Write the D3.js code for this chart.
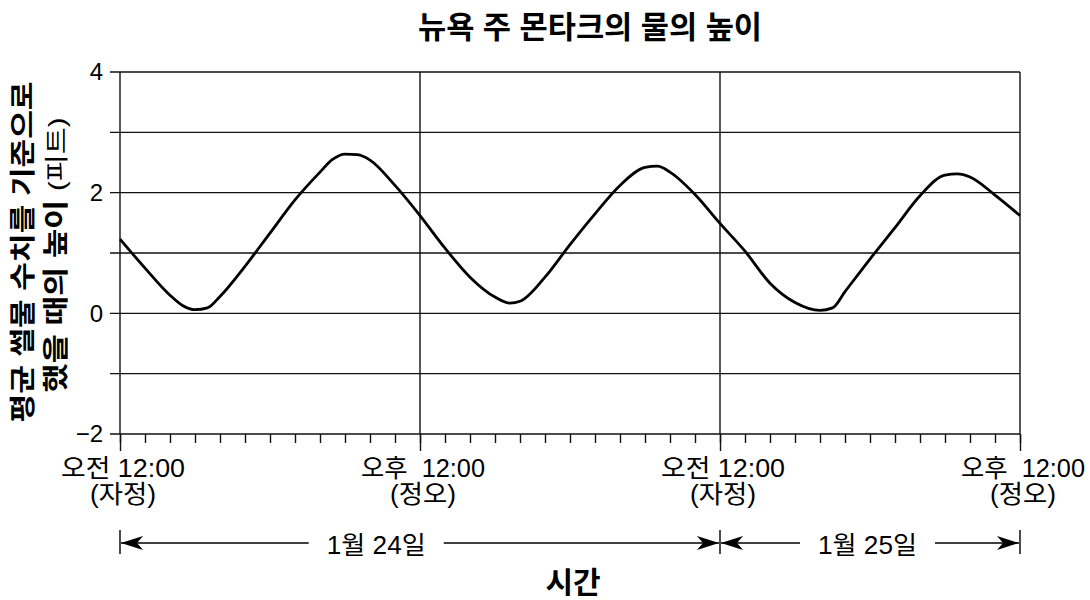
<!DOCTYPE html>
<html>
<head>
<meta charset="utf-8">
<script src="https://cdn.jsdelivr.net/npm/d3@7"></script>
<style>
  body { margin: 0; background: #fff; }
  svg text { font-family: "Liberation Sans", Arial, "Noto Sans CJK KR", sans-serif; fill: #000; }
</style>
</head>
<body>
<svg id="chart"></svg>
<script>
let w = 1090;
let h = 600;

// hours since 1/24 00:00
let hours = [0, 1, 2, 2.5, 3, 3.5, 4, 5, 6, 7, 8, 8.5, 9, 9.5, 10, 11, 12, 13, 14, 15, 15.6, 16, 17, 18, 19, 20, 21, 21.5, 22, 23, 24, 25, 26, 27, 28, 28.5, 29, 30, 31, 32, 33, 33.5, 34, 35, 36];
// water height (ft)
let heights = [1.23, 0.75, 0.3, 0.13, 0.06, 0.09, 0.28, 0.78, 1.33, 1.88, 2.34, 2.55, 2.64, 2.63, 2.54, 2.12, 1.62, 1.08, 0.6, 0.27, 0.17, 0.2, 0.6, 1.14, 1.65, 2.12, 2.42, 2.44, 2.34, 1.97, 1.49, 1.03, 0.5, 0.18, 0.05, 0.09, 0.36, 0.9, 1.42, 1.95, 2.29, 2.31, 2.26, 1.96, 1.62];

let yTicks = [-2, -1, 0, 1, 2, 3, 4];
let yLabels = [-2, 0, 2, 4];
let majorHours = [0, 12, 24, 36];
let tickLine1 = ["오전 12:00", "오후  12:00", "오전 12:00", "오후  12:00"];
let tickLine2 = ["(자정)", "(정오)", "(자정)", "(정오)"];
let dayLabels = ["1월 24일", "1월 25일"];
let daySpans = [[0, 24], [24, 36]];
let dayLabelAt = [10.25, 29.9];   // label centre, in hours

let data = hours.map((t, i) => ({ t: t, v: heights[i] }));

let svg = d3.select("#chart").attr("width", w).attr("height", h);

let xScale = d3.scaleLinear().domain([0, 36]).range([120, 1020]);
let yScale = d3.scaleLinear().domain([-2, 4]).range([434, 72]);

// horizontal grid
svg.append("g")
  .selectAll("line")
  .data(yTicks)
  .join("line")
    .attr("x1", 110)
    .attr("x2", xScale(36))
    .attr("y1", d => yScale(d))
    .attr("y2", d => yScale(d))
    .attr("stroke", "#111")
    .attr("stroke-width", 1.4);

// vertical grid
svg.append("g")
  .selectAll("line")
  .data(majorHours)
  .join("line")
    .attr("x1", d => xScale(d))
    .attr("x2", d => xScale(d))
    .attr("y1", yScale(4))
    .attr("y2", yScale(-2))
    .attr("stroke", "#111")
    .attr("stroke-width", 1.4);

// y labels
let yAxis = d3.axisLeft(yScale)
  .tickValues(yLabels)
  .tickSize(0)
  .tickPadding(17)
  .tickFormat(d3.format("d"));
let yAxisGroup = svg.append("g")
  .attr("transform", `translate(${xScale(0)}, 0)`)
  .call(yAxis);
yAxisGroup.select(".domain").remove();
yAxisGroup.selectAll("text")
  .attr("font-size", 24)
  .attr("font-family", "Liberation Sans, Arial, sans-serif");

// x ticks (hourly minor, 12h major)
let minorAxis = d3.axisBottom(xScale)
  .tickValues(d3.range(0, 37))
  .tickSize(9)
  .tickFormat("");
let minorGroup = svg.append("g")
  .attr("transform", `translate(0, ${yScale(-2)})`)
  .call(minorAxis);
minorGroup.select(".domain").remove();
minorGroup.selectAll("line").attr("stroke", "#111").attr("stroke-width", 1.4);

let majorAxis = d3.axisBottom(xScale)
  .tickValues(majorHours)
  .tickSize(17)
  .tickFormat("");
let majorGroup = svg.append("g")
  .attr("transform", `translate(0, ${yScale(-2)})`)
  .call(majorAxis);
majorGroup.select(".domain").remove();
majorGroup.selectAll("line").attr("stroke", "#111").attr("stroke-width", 1.4);

// x tick labels
let xl = svg.append("g")
  .attr("font-size", 25)
  .attr("text-anchor", "middle");
xl.selectAll("text.l1")
  .data(majorHours)
  .join("text")
    .attr("class", "l1")
    .attr("x", d => xScale(d) + 3)
    .attr("y", 477)
    .attr("textLength", 124)
    .attr("lengthAdjust", "spacingAndGlyphs")
    .style("white-space", "pre")
    .text((d, i) => tickLine1[i]);
xl.selectAll("text.l2")
  .data(majorHours)
  .join("text")
    .attr("class", "l2")
    .attr("x", d => xScale(d) + 3)
    .attr("y", 503)
    .attr("textLength", 66)
    .attr("lengthAdjust", "spacingAndGlyphs")
    .text((d, i) => tickLine2[i]);

// the line
let line = d3.line()
  .x(d => xScale(d.t))
  .y(d => yScale(d.v))
  .curve(d3.curveMonotoneX);
svg.append("path")
  .datum(data)
  .attr("fill", "none")
  .attr("stroke", "#000")
  .attr("stroke-width", 2.8)
  .attr("stroke-linejoin", "round")
  .attr("d", line);

// day arrows
let defs = svg.append("defs");
defs.append("marker")
  .attr("id", "arr")
  .attr("viewBox", "0 0 22 14")
  .attr("refX", 22)
  .attr("refY", 7)
  .attr("markerWidth", 22)
  .attr("markerHeight", 14)
  .attr("markerUnits", "userSpaceOnUse")
  .attr("orient", "auto")
  .append("path")
    .attr("d", "M0,0 L22,7 L0,14 L6,7 Z")
    .attr("fill", "#000");

let arrowY = 543;
let dayG = svg.append("g");
dayG.selectAll("line.bar")
  .data([0, 24, 36])
  .join("line")
    .attr("class", "bar")
    .attr("x1", d => xScale(d))
    .attr("x2", d => xScale(d))
    .attr("y1", arrowY - 13)
    .attr("y2", arrowY + 11)
    .attr("stroke", "#000")
    .attr("stroke-width", 1.4);

daySpans.forEach((s, i) => {
  let x0 = xScale(s[0]), x1 = xScale(s[1]);
  let cx = xScale(dayLabelAt[i]);
  let bw = 99;
  dayG.append("text")
    .attr("x", cx)
    .attr("y", 554)
    .attr("text-anchor", "middle")
    .attr("font-size", 25)
    .attr("textLength", bw)
    .attr("lengthAdjust", "spacingAndGlyphs")
    .text(dayLabels[i]);
  let gap = 18;
  dayG.append("line")
    .attr("x1", cx - bw / 2 - gap).attr("x2", x0 + 1)
    .attr("y1", arrowY).attr("y2", arrowY)
    .attr("stroke", "#000").attr("stroke-width", 1.4)
    .attr("marker-end", "url(#arr)");
  dayG.append("line")
    .attr("x1", cx + bw / 2 + gap).attr("x2", x1 - 1)
    .attr("y1", arrowY).attr("y2", arrowY)
    .attr("stroke", "#000").attr("stroke-width", 1.4)
    .attr("marker-end", "url(#arr)");
});

// titles
svg.append("text")
  .attr("x", 590)
  .attr("y", 38)
  .attr("text-anchor", "middle")
  .attr("font-size", 31)
  .attr("font-weight", "bold")
  .attr("textLength", 344)
  .attr("lengthAdjust", "spacingAndGlyphs")
  .text("뉴욕 주 몬타크의 물의 높이");

svg.append("text")
  .attr("x", 573)
  .attr("y", 593)
  .attr("text-anchor", "middle")
  .attr("font-size", 30)
  .attr("font-weight", "bold")
  .text("시간");

let yt = svg.append("g")
  .attr("transform", "rotate(-90)")
  .attr("text-anchor", "middle");
yt.append("text")
  .attr("x", -252)
  .attr("y", 32)
  .attr("font-size", 26)
  .attr("font-weight", "bold")
  .attr("textLength", 341)
  .attr("lengthAdjust", "spacingAndGlyphs")
  .text("평균 썰물 수치를 기준으로");
let yt2 = yt.append("text")
  .attr("x", -255)
  .attr("y", 65)
  .attr("font-size", 26)
  .attr("textLength", 275)
  .attr("lengthAdjust", "spacingAndGlyphs");
yt2.append("tspan").attr("font-weight", "bold").text("했을 때의 높이 ");
yt2.append("tspan").attr("font-size", 24).text("(피트)");
</script>
</body>
</html>
